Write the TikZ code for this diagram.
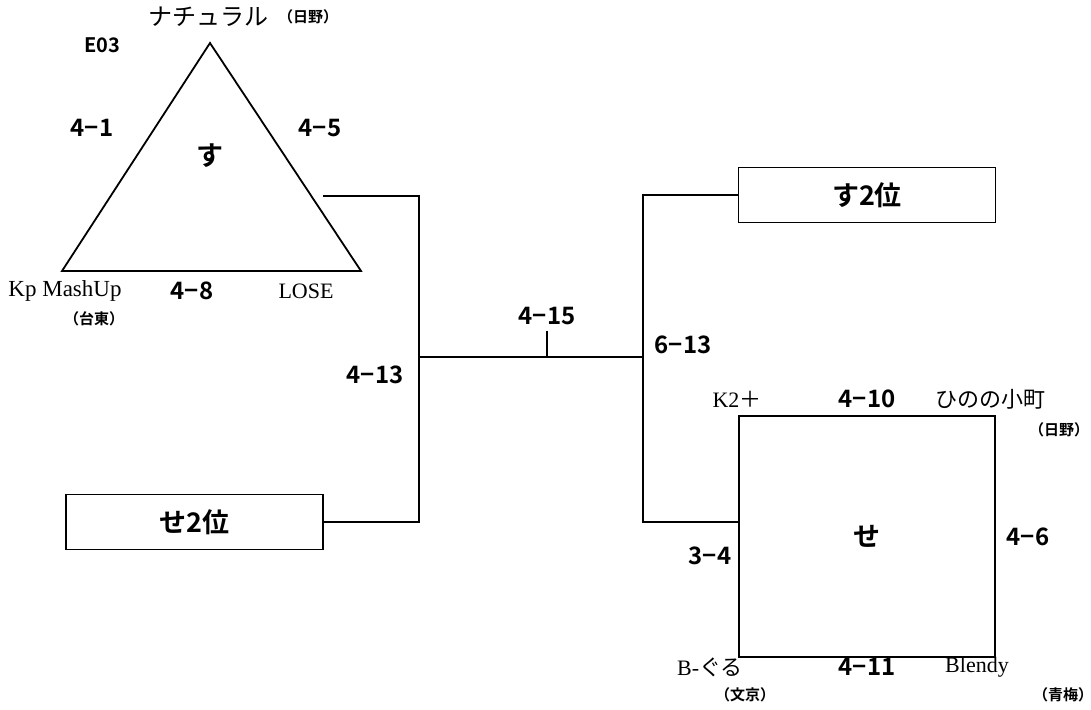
\documentclass[tikz,border=0pt]{standalone}
\usepackage{fontspec}
\setmainfont{Liberation Serif}
\newfontfamily\jp{Noto Sans CJK JP}
\newfontfamily\jpb{Noto Sans CJK JP Bold}
\usetikzlibrary{positioning}
\tikzset{
  score/.style={font=\jpb\fontsize{24}{24}\selectfont},
  team/.style={font=\fontsize{22}{22}\selectfont},
  area/.style={font=\jpb\fontsize{15}{15}\selectfont},
  block/.style={font=\jpb\fontsize{27}{27}\selectfont},
  seedbox/.style={draw,minimum width=257pt,minimum height=55pt,inner sep=0pt,font=\jpb\fontsize{27}{27}\selectfont},
  wire/.style={line width=1.4pt},
}
\begin{document}
\begin{tikzpicture}[x=1pt,y=-1pt,line width=1.4pt]
\useasboundingbox (0,0) rectangle (1091,709);

% block su
\coordinate (top) at (210,43);
\coordinate (bl) at (62,271);
\coordinate (br) at (361,271);
\draw[line width=1.8pt,line join=miter] (top) -- (bl) -- (br) -- cycle;
\node[block] (su) at (210,156) {す};
\node[team,font=\jp\fontsize{24}{24}\selectfont] (nat) at (208,17) {ナチュラル};
\node[area,right=2pt of nat] {（日野）};
\node[area,font=\jpb\fontsize{20}{20}\selectfont] (e03) at (102,45) {E03};
\node[score] at (92,128) {4−1};
\node[score] at (320,128) {4−5};
\node[score] at (192,291) {4−8};
\node[team,font=\fontsize{23}{23}\selectfont] (kp) at (65,291) {Kp MashUp};
\node[area] at (94,319) {（台東）};
\node[team] (lose) at (306,291) {LOSE};

% block se
\node[draw,minimum width=256pt,minimum height=241pt,inner sep=0pt,block] (se) at (867,536.5) {せ};
\node[team] (k2) at (737,399) {K2{\jp ＋}};
\node[score] at (867,399) {4−10};
\node[team,font=\jp\fontsize{22}{22}\selectfont] (hino) at (990,399) {ひのの小町};
\node[area] at (1059,430) {（日野）};
\node[score] at (1028,537) {4−6};
\node[score] at (710,556) {3−4};
\node[team] (bg) at (710,667) {B-{\jp ぐる}};
\node[score] at (867,667) {4−11};
\node[team] (bl2) at (977,667) {Blendy};
\node[area] at (745,695) {（文京）};
\node[area] at (1063,695) {（青梅）};

% seconds
\node[seedbox] (se2) at (194.5,522) {せ2位};
\node[seedbox] (su2) at (867,195) {す2位};

% bracket
\coordinate (suout) at (323,196);
\coordinate (m1) at (419,357);
\coordinate (m2) at (643,357);
\coordinate (sein) at (739,522);
\coordinate (fin) at (547,331);
\draw[wire] (suout) -| (m1);
\draw[wire] (se2.east) -| (m1);
\draw[wire] (m1) -- (m2);
\draw[wire] (su2.west) -| (m2);
\draw[wire] (sein) -| (m2);
\draw[wire] (fin) -- (fin |- m1);
\node[score] at (375,375) {4−13};
\node[score] at (547,316) {4−15};
\node[score] at (683,345) {6−13};
\end{tikzpicture}
\end{document}
